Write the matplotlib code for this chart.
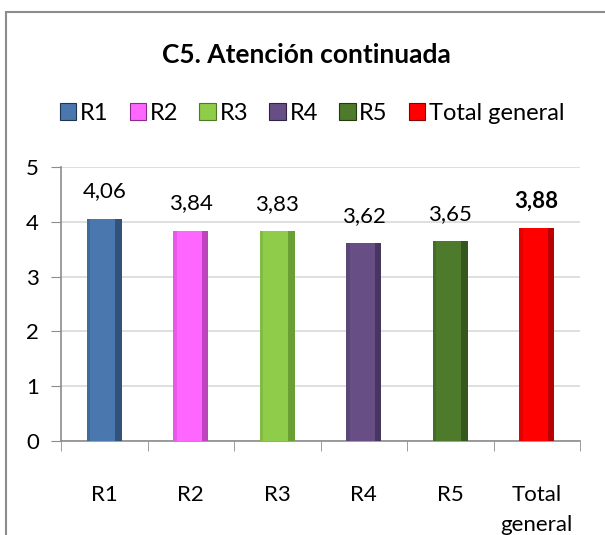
import matplotlib.pyplot as plt
from matplotlib.patches import Rectangle, Patch

categories = ['R1', 'R2', 'R3', 'R4', 'R5', 'Total\ngeneral']
legend_names = ['R1', 'R2', 'R3', 'R4', 'R5', 'Total general']
values = [4.06, 3.84, 3.83, 3.62, 3.65, 3.88]
labels = ['4,06', '3,84', '3,83', '3,62', '3,65', '3,88']
colors = ['#4a77ad', '#ff66ff', '#8fcc4a', '#674f86', '#4d7a2b', '#ff0000']
dark = ['#1f3550', '#8a2a8a', '#4c7a22', '#2e2340', '#223a12', '#800000']

plt.rcParams['font.family'] = ['Lato', 'DejaVu Sans']

fig = plt.figure(figsize=(6.05, 5.35), dpi=100)
fig.patches.append(Rectangle((6 / 605, -0.1), 1.2, 1 - 12 / 535 + 0.1,
                             transform=fig.transFigure, fill=False,
                             edgecolor='#8c8c8c', linewidth=1.5))

ax = fig.add_axes([61 / 605, (535 - 441) / 535, (580 - 61) / 605, (441 - 167) / 535])
x = list(range(len(values)))
w = 0.4
ax.bar(x, values, width=w, color=colors, zorder=3)
# darker strip on the right for a bevel look
ax.bar([i + w / 2 - 0.035 for i in x], values, width=0.07, color=dark, alpha=0.55, zorder=4)
ax.bar([i - w / 2 + 0.02 for i in x], values, width=0.04, color=dark, alpha=0.2, zorder=4)

for i, (v, t) in enumerate(zip(values, labels)):
    bold = i == len(values) - 1
    ax.text(i, v + 0.31, t, ha='center', va='bottom', fontsize=16,
            fontweight='bold' if bold else 'normal')

ax.set_xlim(-0.5, len(values) - 0.5)
ax.set_ylim(0, 5)
ax.set_yticks(range(6))
ax.set_xticks(x)
ax.set_xticklabels(categories, fontsize=16, linespacing=1.6)
ax.set_xticks([i + 0.5 for i in range(-1, len(values))], minor=True)
ax.tick_params(axis='x', which='major', length=0, pad=32)
ax.tick_params(axis='x', which='minor', length=7, color='#8c8c8c')
ax.tick_params(axis='y', labelsize=16, length=7, color='#8c8c8c', pad=9)
ax.grid(axis='y', color='#d9d9d9', linewidth=1.2, zorder=0)
for s in ['top', 'right']:
    ax.spines[s].set_visible(False)
for s in ['left', 'bottom']:
    ax.spines[s].set_color('#8c8c8c')
    ax.spines[s].set_linewidth(1.2)

fig.text(0.507, 1 - 55 / 535, 'C5. Atención continuada', ha='center', va='center',
         fontsize=19, fontweight='bold')
handles = [Patch(facecolor=c, edgecolor=d, linewidth=0.8) for c, d in zip(colors, dark)]
fig.legend(handles, legend_names, loc='center', bbox_to_anchor=(0.516, 1 - 113 / 535),
           ncol=6, frameon=False, fontsize=17, handlelength=0.7, handleheight=0.7,
           handletextpad=0.15, columnspacing=0.9)

fig.savefig('out.png', dpi=100)
